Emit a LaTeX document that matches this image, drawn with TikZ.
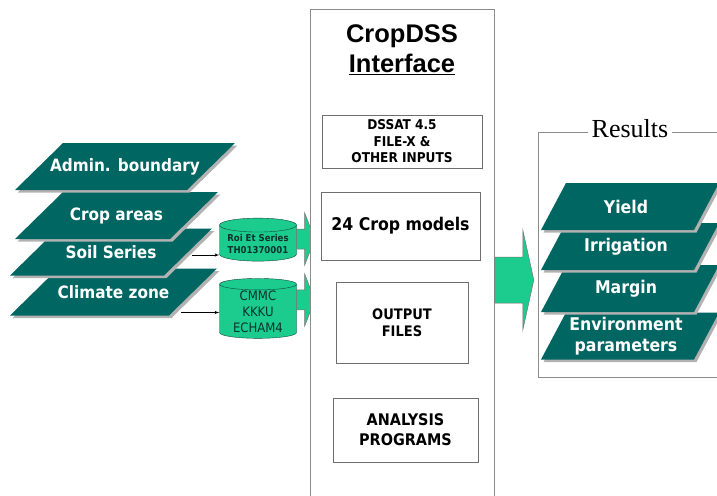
\documentclass[tikz,border=0pt]{standalone}
\usepackage{fontspec}
\setmainfont{DejaVu Sans Condensed}
\newfontfamily\headfont{Liberation Sans}
\newfontfamily\resfont{Liberation Serif}
\usetikzlibrary{shapes,arrows,shadows,calc,positioning}

\definecolor{layerteal}{RGB}{0,102,98}
\definecolor{cylgreen}{RGB}{28,204,142}
\definecolor{cylline}{RGB}{20,70,60}
\definecolor{cyltext}{RGB}{10,50,45}
\definecolor{framegray}{RGB}{140,140,140}
\definecolor{boxgray}{RGB}{110,110,110}

\begin{document}
\begin{tikzpicture}[x=1pt, y=-1pt, >=latex',
    layer/.style={fill=layerteal, drop shadow={shadow xshift=2.5pt, shadow yshift=-2.5pt, fill=black!30, opacity=1}},
    layertext/.style={text=white, font=\bfseries\fontsize{17}{20}\selectfont, align=center, inner sep=1pt},
    cyl/.style={cylinder, shape border rotate=90, aspect=0.22, draw=cylline, fill=cylgreen, text=cyltext, align=center, minimum width=77pt, inner sep=1pt},
    flow/.style={fill=cylgreen, draw=black!55, line width=0.5pt},
    link/.style={->, line width=0.6pt},
    module/.style={draw=boxgray, line width=1pt, align=center, font=\bfseries, inner sep=2pt}]

    \useasboundingbox (0,0) rectangle (717,495);
    \clip (0,0) rectangle (717,495);

    % Capas de entrada (de abajo hacia arriba)
    \foreach \cx/\cy/\w/\txt/\nm in {113.5/292/207/Climate zone/clim, 111/252/202/Soil Series/soil,
        116.5/215.5/203/Crop areas/crop, 125/166.5/220/Admin. boundary/admin} {
        \fill[layer] (\cx-\w/2, \cy+23.5) -- ++({\w-48},0) -- ++(48,-47) -- ++({48-\w},0) -- cycle;
        \coordinate (\nm-r) at (\cx+\w/2-24, \cy);
        \coordinate (\nm-br) at (\cx+\w/2-48, \cy+23.5);
        \node[layertext] (\nm) at (\cx,\cy) {\txt};
    }

    % Bases de datos
    \node[cyl, minimum height=43pt, font=\bfseries\fontsize{9.5}{11.5}\selectfont] (cylA) at (258,244) {Roi Et Series\\TH01370001};
    \node[cyl, minimum height=58pt, font=\fontsize{13}{16}\selectfont] (cylB) at (258,312) {CMMC\\KKKU\\ECHAM4};

    \coordinate (soilarrow) at ($(soil-r)+(4,3)$);
    \coordinate (climarrow) at ($(clim-br)+(12,-3)$);
    \draw[link] (soilarrow) -- (soilarrow -| cylA.west);
    \draw[link] (climarrow) -- (climarrow -| cylB.west);

    % Flechas hacia la interfaz
    \coordinate (arA) at ($(cylA.east)+(0,-5)$);
    \coordinate (arB) at ($(cylB.east)+(0,-12)$);
    \foreach \a in {arA, arB} {
        \filldraw[flow] ($(\a)+(0,-10)$) -- ++(8,0) -- ++(0,-16) -- ++(10,26) -- ++(-10,26) -- ++(0,-16) -- ++(-8,0) -- cycle;
    }

    % Interfaz CropDSS
    \node[draw=framegray, fill=white, line width=0.8pt, minimum width=184pt, minimum height=500pt, anchor=north west] (dss) at (310,9) {};
    \node[font=\headfont\bfseries\fontsize{25.5}{28}\selectfont] (title1) at (402,36) {CropDSS};
    \node[font=\headfont\bfseries\fontsize{25.5}{28}\selectfont] (title2) at (402,64) {\underline{Interface}};

    \node[module, minimum width=160pt, minimum height=53pt, font=\bfseries\fontsize{13.5}{16.5}\selectfont] (inputs) at (402,141.5) {DSSAT 4.5\\FILE-X \&\\OTHER INPUTS};
    \node[module, minimum width=159pt, minimum height=68pt, font=\bfseries\fontsize{17.5}{20}\selectfont] (models) at (400.5,226) {24 Crop models};
    \node[module, minimum width=132pt, minimum height=81pt, font=\bfseries\fontsize{14.5}{17}\selectfont] (outfiles) at (402,322.5) {OUTPUT\\FILES};
    \node[module, minimum width=145pt, minimum height=64pt, font=\bfseries\fontsize{16}{20}\selectfont] (analysis) at (405.5,430) {ANALYSIS\\PROGRAMS};

    % Resultados
    \node[draw=framegray, line width=0.8pt, minimum width=200pt, minimum height=245pt, anchor=north west] (res) at (538,132) {};
    \node[fill=white, inner sep=4pt, font=\resfont\fontsize{26}{28}\selectfont] (restitle) at (630,129) {Results};

    \coordinate (flowmid) at (0,280);
    \filldraw[flow] ($(flowmid -| dss.east)+(0,-23)$) -- ++(28,0) -- ++(0,-27) -- ++(11,50) -- ++(-11,50) -- ++(0,-27) -- ++(-28,0) -- cycle;

    \foreach \cy/\txt/\nm in {336/Environment\\parameters/envir, 288.5/Margin/margin,
        246.5/Irrigation/irrig, 206.5/Yield/yield} {
        \fill[layer] (541, \cy+23.5) -- ++(153,0) -- ++(25,-47) -- ++(-153,0) -- cycle;
        \node[layertext, font=\bfseries\fontsize{17.5}{21}\selectfont] (\nm) at (626,\cy) {\txt};
    }

\end{tikzpicture}
\end{document}
